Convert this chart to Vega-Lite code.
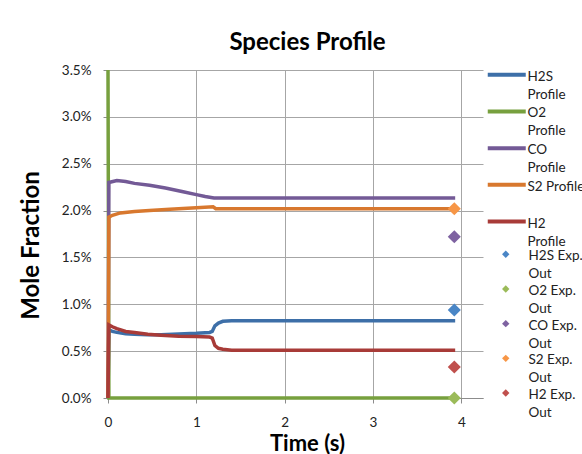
{
  "$schema": "https://vega.github.io/schema/vega-lite/v6.json",
  "width": 375,
  "height": 328,
  "autosize": {"type": "none"},
  "padding": {"left": 108, "top": 70, "right": 99, "bottom": 56},
  "background": "white",
  "title": {"text": "Species Profile", "fontSize": 24, "fontWeight": "bold", "color": "#000000", "font": "Lato", "offset": 8, "dx": 12},
  "config": {
    "font": "Lato",
    "view": {"stroke": null},
    "axis": {
      "labelFontSize": 13.5,
      "labelColor": "#222222",
      "labelFont": "Lato",
      "titleFont": "Lato",
      "titleFontWeight": "bold",
      "titleColor": "#000000",
      "gridColor": "#a6a6a6",
      "gridWidth": 1,
      "domainColor": "#8c8c8c",
      "tickColor": "#8c8c8c",
      "tickSize": 5,
      "labelFlush": false
    },
    "legend": {"labelFont": "Lato", "labelFontSize": 13.5, "labelColor": "#222222"}
  },
  "datasets": {
    "profiles": [
      {"t": 0, "value": 0, "series": "H2S Profile"},
      {"t": 0.01, "value": 0.0073, "series": "H2S Profile"},
      {"t": 0.05, "value": 0.0071, "series": "H2S Profile"},
      {"t": 0.1, "value": 0.00700, "series": "H2S Profile"},
      {"t": 0.2, "value": 0.00686, "series": "H2S Profile"},
      {"t": 0.3, "value": 0.00679, "series": "H2S Profile"},
      {"t": 0.45, "value": 0.00675, "series": "H2S Profile"},
      {"t": 0.6, "value": 0.00676, "series": "H2S Profile"},
      {"t": 0.8, "value": 0.00682, "series": "H2S Profile"},
      {"t": 1.0, "value": 0.00690, "series": "H2S Profile"},
      {"t": 1.15, "value": 0.00700, "series": "H2S Profile"},
      {"t": 1.18, "value": 0.00710, "series": "H2S Profile"},
      {"t": 1.21, "value": 0.00770, "series": "H2S Profile"},
      {"t": 1.25, "value": 0.00800, "series": "H2S Profile"},
      {"t": 1.3, "value": 0.00818, "series": "H2S Profile"},
      {"t": 1.4, "value": 0.00825, "series": "H2S Profile"},
      {"t": 3.93, "value": 0.00825, "series": "H2S Profile"},
      {"t": 0, "value": 0.035, "series": "O2 Profile"},
      {"t": 0.01, "value": 0, "series": "O2 Profile"},
      {"t": 3.93, "value": 0, "series": "O2 Profile"},
      {"t": 0, "value": 0, "series": "CO Profile"},
      {"t": 0.01, "value": 0.0230, "series": "CO Profile"},
      {"t": 0.1, "value": 0.0232, "series": "CO Profile"},
      {"t": 0.2, "value": 0.0231, "series": "CO Profile"},
      {"t": 0.3, "value": 0.0229, "series": "CO Profile"},
      {"t": 0.47, "value": 0.0227, "series": "CO Profile"},
      {"t": 0.65, "value": 0.0224, "series": "CO Profile"},
      {"t": 0.85, "value": 0.0220, "series": "CO Profile"},
      {"t": 1.0, "value": 0.0217, "series": "CO Profile"},
      {"t": 1.1, "value": 0.0215, "series": "CO Profile"},
      {"t": 1.2, "value": 0.02135, "series": "CO Profile"},
      {"t": 3.93, "value": 0.02135, "series": "CO Profile"},
      {"t": 0, "value": 0, "series": "S2 Profile"},
      {"t": 0.01, "value": 0.0193, "series": "S2 Profile"},
      {"t": 0.05, "value": 0.0195, "series": "S2 Profile"},
      {"t": 0.14, "value": 0.01975, "series": "S2 Profile"},
      {"t": 0.3, "value": 0.0199, "series": "S2 Profile"},
      {"t": 0.47, "value": 0.0200, "series": "S2 Profile"},
      {"t": 0.7, "value": 0.02015, "series": "S2 Profile"},
      {"t": 1.0, "value": 0.0203, "series": "S2 Profile"},
      {"t": 1.19, "value": 0.0204, "series": "S2 Profile"},
      {"t": 1.22, "value": 0.0202, "series": "S2 Profile"},
      {"t": 3.93, "value": 0.0202, "series": "S2 Profile"},
      {"t": 0, "value": 0, "series": "H2 Profile"},
      {"t": 0.01, "value": 0.0078, "series": "H2 Profile"},
      {"t": 0.05, "value": 0.0076, "series": "H2 Profile"},
      {"t": 0.1, "value": 0.0074, "series": "H2 Profile"},
      {"t": 0.2, "value": 0.0071, "series": "H2 Profile"},
      {"t": 0.3, "value": 0.0070, "series": "H2 Profile"},
      {"t": 0.45, "value": 0.0068, "series": "H2 Profile"},
      {"t": 0.6, "value": 0.0067, "series": "H2 Profile"},
      {"t": 0.8, "value": 0.0066, "series": "H2 Profile"},
      {"t": 1.0, "value": 0.00655, "series": "H2 Profile"},
      {"t": 1.15, "value": 0.0065, "series": "H2 Profile"},
      {"t": 1.18, "value": 0.0064, "series": "H2 Profile"},
      {"t": 1.21, "value": 0.0056, "series": "H2 Profile"},
      {"t": 1.25, "value": 0.0053, "series": "H2 Profile"},
      {"t": 1.3, "value": 0.0052, "series": "H2 Profile"},
      {"t": 1.4, "value": 0.0051, "series": "H2 Profile"},
      {"t": 3.93, "value": 0.0051, "series": "H2 Profile"}
    ],
    "exp": [
      {"t": 3.92, "value": 0.0094, "series": "H2S Exp. Out"},
      {"t": 3.92, "value": 0.0, "series": "O2 Exp. Out"},
      {"t": 3.92, "value": 0.0172, "series": "CO Exp. Out"},
      {"t": 3.92, "value": 0.0202, "series": "S2 Exp. Out"},
      {"t": 3.92, "value": 0.0033, "series": "H2 Exp. Out"}
    ]
  },
  "encoding": {
    "x": {"field": "t", "type": "quantitative", "scale": {"domain": [0, 4.245], "nice": false, "zero": false},
          "axis": {"values": [0, 1, 2, 3, 4], "format": "d", "title": "Time (s)", "titleFontSize": 22, "grid": true, "labelPadding": 12, "titlePadding": 5, "titleX": 199}},
    "y": {"field": "value", "type": "quantitative", "scale": {"domain": [0, 0.035], "nice": false},
          "axis": {"values": [0, 0.005, 0.01, 0.015, 0.02, 0.025, 0.03, 0.035], "format": ".1%", "title": "Mole Fraction", "titleFontSize": 24, "grid": true, "labelPadding": 12, "titlePadding": 18, "titleY": 175}}
  },
  "layer": [
    {
      "data": {"name": "profiles"},
      "mark": {"type": "line", "strokeWidth": 3.5},
      "encoding": {
        "color": {"field": "series", "type": "nominal",
          "scale": {"domain": ["H2S Profile", "O2 Profile", "CO Profile", "S2 Profile", "H2 Profile"],
                    "range": ["#3d6fa8", "#77a03e", "#735a96", "#d8782e", "#a83b38"]},
          "legend": {"title": null, "orient": "none", "legendX": 392, "legendY": -2,
                     "symbolType": "M-5,0H5", "symbolSize": 57.76, "symbolStrokeWidth": 4, "labelOffset": 14,
                     "rowPadding": 0.7, "labelBaseline": "middle",
                     "labelExpr": "datum.label == 'S2 Profile' ? ['S2 Profile', ''] : [slice(datum.label, 0, lastindexof(datum.label, ' ')), slice(datum.label, lastindexof(datum.label, ' ') + 1)]",
                     "encode": {"labels": {"update": {"dy": {"value": 2}, "lineHeight": {"value": 18}}}}}
        }
      }
    },
    {
      "data": {"name": "exp"},
      "mark": {"type": "point", "shape": "diamond", "filled": true, "size": 170, "opacity": 1},
      "encoding": {
        "color": {"field": "series", "type": "nominal",
          "scale": {"domain": ["H2S Exp. Out", "O2 Exp. Out", "CO Exp. Out", "S2 Exp. Out", "H2 Exp. Out"],
                    "range": ["#4a86c6", "#9bbb59", "#7e62a1", "#f79646", "#c0504d"]},
          "legend": {"title": null, "orient": "none", "legendX": 391, "legendY": 177.5,
                     "symbolType": "diamond", "symbolSize": 55, "symbolOpacity": 1, "labelOffset": 16,
                     "rowPadding": 0.7, "labelBaseline": "middle",
                     "labelExpr": "[slice(datum.label, 0, lastindexof(datum.label, ' ')), slice(datum.label, lastindexof(datum.label, ' ') + 1)]",
                     "encode": {"labels": {"update": {"dy": {"value": 2}, "lineHeight": {"value": 18}}}}}
        }
      }
    }
  ],
  "resolve": {"scale": {"color": "independent"}}
}
